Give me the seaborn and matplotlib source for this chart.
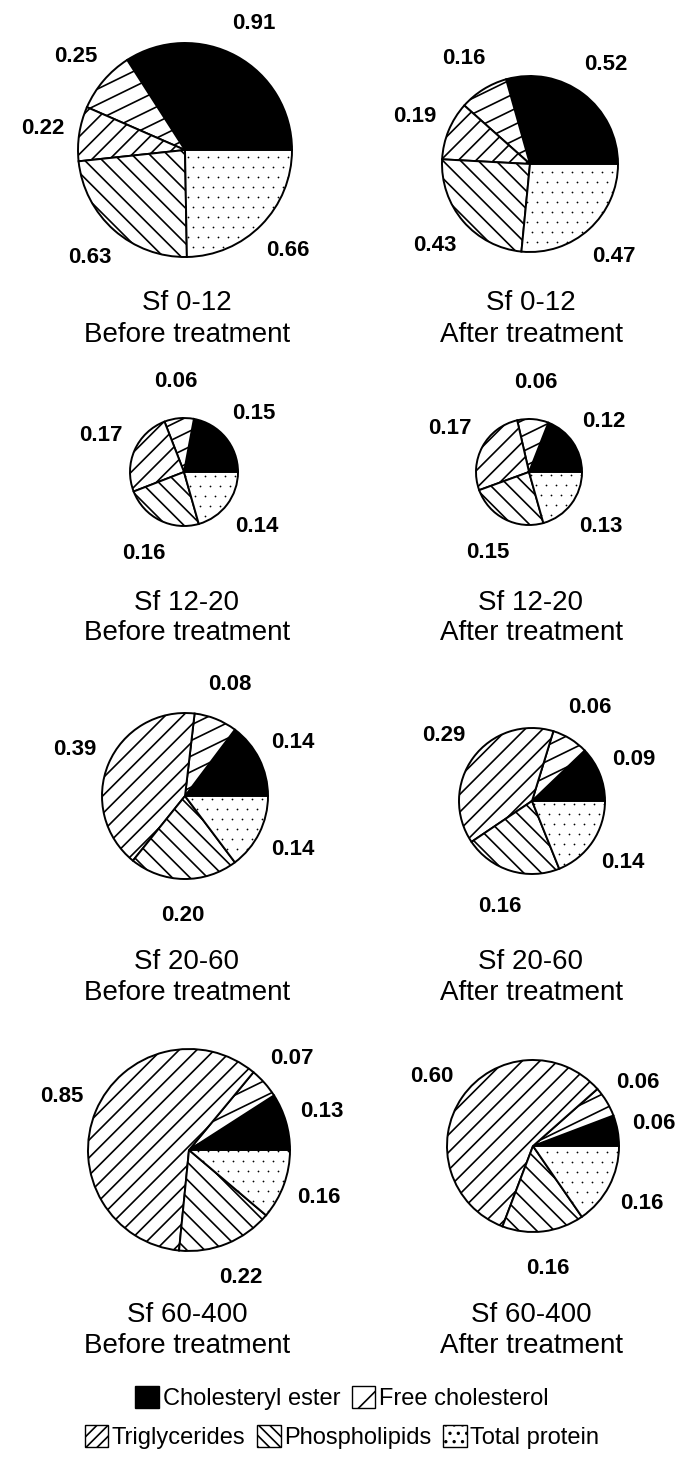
import numpy as np
import matplotlib.pyplot as plt
import seaborn as sns
from matplotlib.patches import Patch
from matplotlib.collections import LineCollection

sns.set_theme(style="white")
plt.rcParams['font.family'] = ['Liberation Sans', 'DejaVu Sans']
plt.rcParams['text.color'] = 'black'
plt.rcParams['hatch.linewidth'] = 1.2
plt.rcParams['hatch.color'] = 'black'

#--------------data (per lipoprotein fraction)--------------
components = ["Cholesteryl ester", "Free cholesterol", "Triglycerides",
              "Phospholipids", "Total protein"]
fractions = ["Sf 0-12", "Sf 0-12", "Sf 12-20", "Sf 12-20",
             "Sf 20-60", "Sf 20-60", "Sf 60-400", "Sf 60-400"]
treatment = ["Before treatment", "After treatment"] * 4

cholesteryl_ester = [0.91, 0.52, 0.15, 0.12, 0.14, 0.09, 0.13, 0.06]
free_cholesterol = [0.25, 0.16, 0.06, 0.06, 0.08, 0.06, 0.07, 0.06]
triglycerides = [0.22, 0.19, 0.17, 0.17, 0.39, 0.29, 0.85, 0.60]
phospholipids = [0.63, 0.43, 0.16, 0.15, 0.20, 0.16, 0.22, 0.16]
total_protein = [0.66, 0.47, 0.14, 0.13, 0.14, 0.14, 0.16, 0.16]

#--------------layout (pixels, measured from top)--------------
W, H = 684, 1461
pie_x = [185, 530, 184, 529, 185, 532, 189, 533]
pie_y = [150, 164, 472, 472, 796, 801, 1150, 1146]
pie_r = [107, 88, 54, 53, 83, 73, 101, 86]
col_x = [187, 531]
caption_y = [(303, 335), (603, 633), (962, 993), (1315, 1346)]

fills = ['black', 'white', 'white', 'white', 'white']

fig = plt.figure(figsize=(W / 100, H / 100), dpi=100)
ax = fig.add_axes([0, 0, 1, 1])


def hatch_lines(wedge, cx, cy, r, angle, step):
    # parallel lines across the pie, clipped to one wedge
    a = np.deg2rad(angle)
    u = np.array([np.cos(a), np.sin(a)])
    n = np.array([-np.sin(a), np.cos(a)])
    segs = []
    for k in np.arange(-r, r + step, step):
        p = np.array([cx, cy]) + n * (k + step * 0.3)
        segs.append([p - u * r * 1.5, p + u * r * 1.5])
    lc = LineCollection(segs, colors='black', linewidths=1.2)
    ax.add_collection(lc)
    lc.set_clip_path(wedge)


def dot_fill(wedge, cx, cy, r, step=10):
    gx, gy = [], []
    for j, yy in enumerate(np.arange(-r, r + step, step)):
        shift = step / 2 if j % 2 else 0
        for xx in np.arange(-r, r + step, step):
            gx.append(cx + xx + shift)
            gy.append(cy + yy)
    sc = ax.scatter(gx, gy, s=1.6, color='black', linewidths=0)
    sc.set_clip_path(wedge)


for i in range(8):
    vals = [cholesteryl_ester[i], free_cholesterol[i], triglycerides[i],
            phospholipids[i], total_protein[i]]
    cx, cy, r = pie_x[i], H - pie_y[i], pie_r[i]
    wedges, _ = ax.pie(vals, colors=fills, startangle=0,
                       counterclock=True, radius=r, center=(cx, cy),
                       wedgeprops=dict(edgecolor='black', linewidth=1.4))

    hatch_lines(wedges[1], cx, cy, r, 26, 14)   # free cholesterol
    hatch_lines(wedges[2], cx, cy, r, 45, 12.5)  # triglycerides
    hatch_lines(wedges[3], cx, cy, r, -45, 12.5)  # phospholipids
    dot_fill(wedges[4], cx, cy, r)              # total protein

    # value labels at the middle of each slice
    for w, v in zip(wedges, vals):
        th = np.deg2rad((w.theta1 + w.theta2) / 2)
        d = r + 37
        ax.text(cx + d * np.cos(th), cy + d * np.sin(th), f"{v:.2f}",
                ha='center', va='center', fontsize=16, fontweight='bold')

    row, col = i // 2, i % 2
    y1, y2 = caption_y[row]
    ax.text(col_x[col], H - y1, fractions[i], ha='center', va='center', fontsize=20)
    ax.text(col_x[col], H - y2, treatment[i], ha='center', va='center', fontsize=20)

ax.set_xlim(0, W)
ax.set_ylim(0, H)
ax.set_axis_off()

#--------------legend--------------
handles = [Patch(facecolor='black', edgecolor='black'),
           Patch(facecolor='white', edgecolor='black', hatch='/'),
           Patch(facecolor='white', edgecolor='black', hatch='///'),
           Patch(facecolor='white', edgecolor='black', hatch='\\\\\\'),
           Patch(facecolor='white', edgecolor='black', hatch='..')]
leg_kw = dict(loc='center', frameon=False, fontsize=17, handlelength=1.0,
              handleheight=1.1, handletextpad=0.15, columnspacing=0.5,
              borderaxespad=0)
fig.legend(handles[:2], components[:2], ncol=2,
           bbox_to_anchor=(0.5, 1 - 1398 / H), **leg_kw)
fig.legend(handles[2:], components[2:], ncol=3,
           bbox_to_anchor=(0.5, 1 - 1437 / H), **leg_kw)

plt.savefig("out.png", dpi=100)
